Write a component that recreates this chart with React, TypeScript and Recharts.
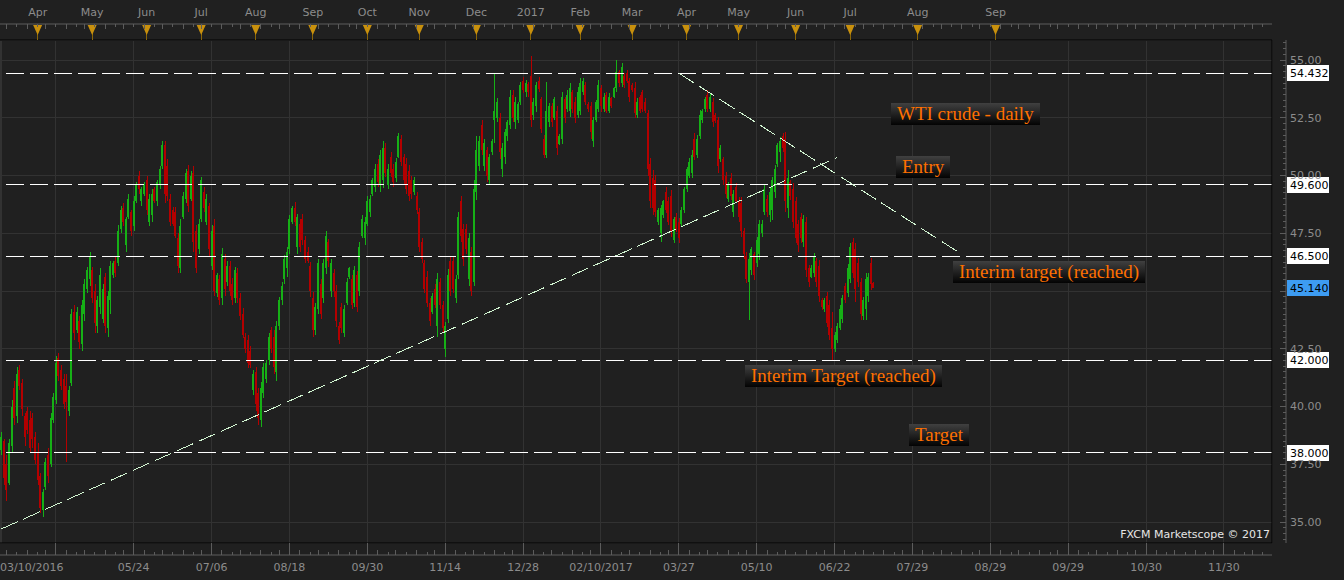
import React from "react";
import { ComposedChart, Bar, XAxis, YAxis, CartesianGrid, ReferenceLine, ReferenceDot } from "recharts";

// daily bars, US oil, from 03/10/2016 on
const opens = [
  38.1, 38.5, 37.5, 36.7, 38.3, 40.8, 39.6, 41.6, 41.0, 39.6,
  39.8, 39.4, 39.5, 38.7, 38.0, 37.0, 35.5, 36.5, 37.9, 37.5,
  39.4, 40.3, 42.1, 41.6, 41.2, 40.9, 39.8, 41.0, 44.1, 43.3,
  43.7, 42.7, 44.0, 45.1, 45.5, 45.9, 45.0, 43.5, 44.3, 43.8,
  45.6, 43.4, 44.6, 45.7, 46.3, 46.2, 47.7, 48.6, 47.0, 48.2,
  48.4, 47.8, 48.9, 50.0, 48.9, 49.2, 49.8, 48.0, 48.3, 49.4,
  48.9, 49.6, 50.4, 51.3, 50.4, 49.0, 48.5, 48.4, 47.3, 46.0,
  48.2, 49.0, 50.2, 49.0, 50.1, 47.6, 46.8, 48.1, 49.3, 48.0,
  48.7, 46.1, 47.8, 44.9, 45.5, 44.7, 46.4, 45.4, 46.1, 45.3,
  44.7, 45.8, 44.7, 44.0, 43.0, 42.9, 42.4, 40.7, 41.5, 40.6,
  39.4, 40.6, 41.2, 42.0, 43.3, 43.0, 41.5, 43.5, 44.6, 45.5,
  46.0, 46.8, 48.0, 48.6, 46.9, 47.9, 48.1, 47.2, 46.7, 46.1,
  44.7, 43.3, 44.2, 45.3, 44.7, 46.0, 47.1, 45.0, 45.8, 45.0,
  43.5, 44.3, 43.2, 44.5, 45.6, 45.5, 44.5, 45.7, 45.0, 47.4,
  47.3, 47.9, 48.4, 49.2, 49.5, 50.5, 49.6, 49.8, 51.2, 49.6,
  50.8, 50.3, 49.9, 50.8, 51.6, 50.8, 50.5, 50.2, 49.8, 49.3,
  49.1, 48.4, 47.1, 46.2, 45.6, 44.5, 44.1, 45.1, 43.5, 45.4,
  44.4, 42.5, 43.8, 46.3, 46.3, 44.7, 45.7, 48.9, 47.7, 47.7,
  45.5, 46.7, 45.4, 49.3, 50.4, 52.2, 50.4, 51.1, 49.8, 51.0,
  52.4, 52.5, 52.5, 50.3, 50.8, 51.7, 52.2, 53.5, 52.3, 52.4,
  53.2, 54.1, 53.6, 53.95, 54.3, 52.6, 53.0, 54.1, 53.3, 51.6,
  50.9, 52.3, 53.0, 52.5, 52.8, 51.35, 51.6, 53.3, 52.9, 52.8,
  53.6, 53.2, 52.6, 52.8, 53.6, 53.9, 53.1, 53.0, 51.5, 52.4,
  52.9, 53.8, 52.9, 53.5, 52.8, 53.35, 53.4, 53.8, 54.5, 54.0,
  54.3, 54.45, 54.1, 53.9, 53.8, 52.6, 53.4, 53.6, 53.2, 52.7,
  50.5, 49.9, 49.8, 48.0, 47.5, 48.3, 49.3, 48.9, 49.1, 47.2,
  48.2, 48.0, 47.9, 48.5, 49.4, 50.0, 50.1, 51.6, 50.9, 51.7,
  52.4, 52.9, 53.5, 52.9, 53.2, 52.6, 52.4, 50.7, 50.7, 50.0,
  49.0, 49.9, 48.4, 49.5, 48.9, 48.8, 47.6, 46.5, 45.4, 45.9,
  46.6, 46.2, 46.6, 47.5, 48.4, 49.0, 48.3, 48.5, 49.3, 50.5,
  51.0, 51.7, 51.6, 48.6, 49.7, 49.4, 48.9, 47.9, 48.2, 47.1,
  48.0, 46.0, 45.6, 45.8, 46.3, 46.1, 44.6, 44.2, 44.8, 44.4,
  43.4, 42.5, 42.9, 43.4, 43.8, 45.2, 44.9, 45.5, 47.1, 46.8,
  46.2, 45.4, 43.9, 44.2, 44.8, 46.2, 45.35,
];

const highs = [
  38.9, 38.6, 37.9, 38.6, 40.3, 41.1, 41.7, 41.8, 41.2, 39.7,
  40.0, 39.8, 39.7, 38.9, 38.4, 37.1, 36.45, 37.75, 38.2, 39.7,
  40.6, 42.2, 42.3, 41.8, 41.4, 41.4, 40.9, 44.2, 44.4, 44.3,
  43.9, 44.6, 45.5, 46.05, 46.7, 46.05, 45.3, 44.8, 46.0, 45.3,
  45.8, 45.0, 46.3, 46.3, 46.5, 47.85, 48.7, 48.8, 48.2, 49.2,
  48.5, 49.1, 49.7, 50.2, 49.5, 49.7, 50.0, 49.2, 49.4, 49.5,
  49.8, 50.4, 51.5, 51.5, 50.7, 49.2, 48.65, 48.65, 47.5, 48.1,
  49.3, 50.3, 50.45, 50.2, 50.4, 47.85, 48.1, 49.95, 49.5, 49.2,
  48.8, 47.85, 48.1, 45.8, 45.7, 46.85, 46.6, 46.3, 46.3, 45.55,
  46.05, 46.0, 44.9, 44.25, 43.2, 43.1, 42.6, 41.6, 41.7, 40.8,
  41.05, 41.9, 42.0, 43.2, 43.45, 43.3, 43.7, 44.75, 45.4, 46.55,
  46.9, 48.3, 48.7, 48.85, 48.35, 48.1, 48.35, 47.4, 46.9, 46.25,
  44.95, 44.5, 46.4, 45.5, 46.4, 47.6, 47.25, 46.4, 45.95, 45.25,
  43.65, 44.5, 44.4, 45.55, 46.05, 45.7, 46.1, 45.85, 47.1, 48.3,
  48.2, 49.1, 49.15, 49.9, 50.5, 50.7, 51.1, 51.5, 51.4, 50.5,
  51.0, 50.5, 50.75, 51.85, 51.75, 50.95, 50.75, 50.45, 50.0, 49.95,
  49.3, 48.6, 47.3, 46.35, 45.85, 44.7, 44.9, 45.3, 45.8, 45.55,
  44.55, 43.65, 45.95, 46.5, 46.5, 45.7, 48.4, 49.1, 47.9, 47.9,
  47.5, 46.9, 49.8, 51.7, 51.7, 52.4, 51.6, 51.25, 50.95, 51.6,
  54.4, 53.35, 52.7, 51.4, 52.0, 52.4, 53.7, 53.7, 53.4, 53.2,
  54.06, 54.28, 54.13, 54.06, 55.17, 53.34, 54.06, 54.28, 53.41, 51.75,
  54.06, 53.12, 53.12, 53.41, 53.0, 51.8, 53.6, 53.41, 53.7, 54.0,
  53.7, 53.41, 53.85, 54.2, 54.2, 54.06, 53.2, 53.2, 52.55, 53.27,
  54.13, 53.92, 53.56, 53.63, 53.56, 53.41, 53.85, 55.0, 54.57, 54.88,
  54.42, 54.57, 54.2, 53.99, 54.06, 53.34, 53.49, 53.7, 53.34, 52.84,
  50.74, 50.24, 50.02, 48.58, 48.72, 48.94, 49.52, 49.08, 49.37, 48.22,
  48.36, 48.15, 48.65, 49.52, 50.38, 50.74, 51.1, 51.83, 51.75, 52.84,
  52.9, 53.41, 53.7, 53.56, 53.34, 52.69, 52.55, 51.32, 50.82, 50.17,
  49.73, 50.09, 49.37, 49.66, 49.08, 49.08, 47.71, 46.7, 46.63, 46.92,
  46.7, 47.35, 48.07, 48.07, 49.59, 49.16, 49.52, 49.95, 50.45, 51.39,
  51.68, 51.82, 51.9, 50.24, 49.8, 49.66, 49.08, 48.07, 48.36, 48.29,
  48.22, 46.12, 46.12, 46.63, 46.41, 46.34, 44.68, 44.68, 44.97, 44.61,
  44.1, 43.24, 43.6, 44.39, 44.83, 45.33, 46.19, 47.06, 47.28, 47.06,
  46.41, 45.55, 44.75, 45.76, 45.76, 46.41, 45.4,
];

const lows = [
  37.9, 36.6, 35.9, 36.6, 38.0, 39.2, 39.3, 40.7, 39.6, 38.3,
  38.8, 38.0, 38.2, 37.5, 36.6, 35.4, 35.2, 36.4, 36.7, 37.4,
  39.3, 40.1, 41.1, 40.7, 39.9, 37.6, 39.6, 40.9, 42.9, 43.2,
  42.5, 42.4, 43.7, 44.9, 45.2, 44.5, 43.2, 43.2, 44.0, 43.6,
  43.2, 43.0, 44.0, 45.55, 45.6, 46.1, 47.5, 47.8, 46.7, 48.1,
  47.4, 47.6, 48.8, 49.2, 48.7, 49.1, 48.3, 47.8, 48.0, 48.8,
  48.7, 49.4, 50.3, 48.8, 48.9, 47.8, 47.8, 47.3, 45.8, 45.8,
  48.1, 48.8, 48.4, 48.9, 46.7, 45.8, 46.6, 48.0, 48.4, 47.85,
  46.5, 45.9, 44.8, 44.75, 44.4, 44.4, 44.8, 45.2, 44.8, 44.4,
  44.5, 44.5, 43.75, 42.95, 42.3, 41.65, 41.65, 40.5, 39.8, 39.2,
  39.1, 40.35, 41.0, 41.8, 42.3, 41.4, 41.1, 43.3, 44.4, 45.3,
  45.6, 46.6, 47.9, 47.8, 46.6, 46.7, 47.0, 46.2, 46.2, 44.75,
  43.0, 43.1, 44.0, 43.8, 44.5, 45.75, 46.05, 44.75, 44.75, 43.45,
  42.7, 43.2, 43.0, 44.4, 45.5, 44.2, 44.3, 44.1, 44.8, 47.3,
  47.0, 47.8, 48.2, 49.1, 49.3, 49.5, 49.3, 49.45, 49.95, 49.4,
  49.95, 49.5, 49.7, 50.75, 50.4, 49.6, 49.2, 48.9, 49.0, 49.15,
  48.35, 46.7, 46.2, 44.9, 44.3, 43.5, 44.0, 44.25, 43.0, 44.2,
  43.2, 42.15, 43.6, 44.8, 44.9, 44.5, 45.5, 47.1, 46.1, 46.6,
  45.2, 44.8, 45.2, 48.95, 50.2, 50.9, 50.2, 49.7, 49.6, 50.9,
  51.4, 52.33, 50.7, 49.95, 50.5, 51.5, 52.0, 52.3, 52.0, 52.26,
  53.05, 53.56, 53.4, 53.4, 52.11, 52.4, 52.77, 53.63, 51.83, 50.74,
  50.74, 52.11, 52.11, 52.4, 50.9, 51.3, 51.36, 52.26, 52.77, 52.55,
  52.69, 52.26, 52.47, 52.62, 53.49, 53.05, 52.77, 51.6, 51.25, 52.33,
  52.77, 52.77, 52.77, 52.69, 52.69, 52.91, 53.34, 53.63, 53.85, 53.85,
  53.77, 53.99, 53.2, 53.63, 52.47, 52.47, 52.69, 52.76, 52.69, 50.0,
  48.58, 48.29, 48.22, 47.86, 47.14, 48.15, 48.36, 47.86, 47.35, 47.06,
  47.57, 47.06, 47.79, 48.36, 49.3, 49.88, 49.88, 50.67, 50.74, 51.6,
  52.26, 52.76, 52.76, 52.76, 52.11, 52.26, 50.09, 50.6, 49.59, 49.01,
  48.87, 48.94, 48.22, 48.8, 48.0, 47.35, 46.4, 45.33, 43.74, 45.69,
  45.48, 46.05, 46.34, 47.35, 48.29, 48.22, 48.0, 48.07, 49.01, 50.38,
  50.6, 51.03, 48.43, 48.14, 48.94, 47.71, 47.06, 46.7, 47.06, 46.92,
  45.62, 45.18, 45.55, 45.62, 45.18, 44.54, 44.18, 44.1, 43.45, 42.88,
  42.01, 42.37, 42.73, 43.31, 43.6, 44.46, 44.75, 45.33, 45.55, 44.54,
  45.18, 43.74, 43.74, 43.74, 44.54, 45.04, 45.11,
];

const closes = [
  38.7, 36.9, 36.4, 38.4, 40.0, 39.5, 41.4, 40.9, 39.9, 38.7,
  39.0, 38.2, 38.6, 37.7, 36.8, 35.6, 36.3, 37.6, 37.0, 39.5,
  40.4, 41.9, 41.3, 40.9, 40.1, 40.2, 40.7, 44.0, 43.2, 44.1,
  42.8, 44.4, 45.3, 45.9, 46.5, 44.7, 43.6, 44.6, 45.7, 45.1,
  43.5, 44.8, 46.1, 46.2, 45.8, 47.6, 48.5, 48.0, 48.1, 49.0,
  47.6, 48.9, 49.6, 49.4, 49.4, 49.6, 48.5, 49.0, 49.2, 48.9,
  49.7, 50.3, 51.3, 49.2, 49.1, 48.0, 47.9, 47.4, 46.1, 47.8,
  49.1, 50.1, 48.7, 50.0, 47.1, 46.0, 47.9, 49.8, 48.6, 49.0,
  46.8, 47.6, 45.0, 45.7, 44.6, 46.6, 45.1, 46.1, 45.0, 44.6,
  45.9, 44.7, 43.9, 43.1, 42.5, 41.9, 41.8, 41.4, 40.1, 39.5,
  40.8, 41.7, 41.9, 43.0, 42.5, 41.7, 43.5, 44.6, 45.2, 46.4,
  46.7, 48.1, 48.6, 48.0, 48.2, 46.9, 47.2, 46.4, 46.3, 45.0,
  43.3, 44.3, 46.2, 44.0, 46.2, 47.4, 46.3, 46.2, 45.0, 43.7,
  42.9, 43.4, 44.2, 45.4, 46.0, 44.4, 45.9, 44.3, 46.9, 48.1,
  48.0, 48.9, 49.0, 49.8, 50.3, 49.7, 50.9, 51.2, 50.1, 50.3,
  50.1, 49.7, 50.6, 51.7, 50.6, 49.8, 49.4, 49.1, 49.2, 49.8,
  48.5, 46.9, 46.4, 45.1, 44.5, 43.7, 44.8, 44.4, 45.5, 44.4,
  43.4, 43.5, 45.7, 45.0, 45.1, 45.5, 48.2, 47.4, 46.4, 46.8,
  47.3, 45.0, 49.4, 51.1, 51.5, 51.1, 51.4, 50.0, 50.8, 51.5,
  52.8, 53.2, 51.0, 51.2, 51.9, 52.3, 53.4, 52.5, 53.2, 53.1,
  53.9, 53.7, 54.0, 53.6, 52.4, 53.2, 53.9, 53.75, 52.0, 50.9,
  52.8, 53.0, 52.3, 53.3, 51.2, 51.7, 53.4, 52.5, 53.5, 53.8,
  52.9, 52.5, 53.6, 54.0, 54.1, 53.2, 52.9, 51.9, 52.4, 53.2,
  53.9, 53.0, 53.4, 52.8, 53.4, 53.0, 53.8, 54.5, 54.0, 54.7,
  53.9, 54.1, 53.4, 53.7, 52.7, 53.2, 52.8, 52.9, 52.8, 50.3,
  48.9, 48.6, 48.4, 48.5, 48.6, 48.9, 48.5, 48.0, 47.6, 48.1,
  47.7, 47.3, 48.5, 49.4, 50.3, 50.6, 50.9, 50.8, 51.6, 52.6,
  52.8, 53.3, 52.9, 53.4, 52.3, 52.35, 50.4, 51.2, 49.8, 49.2,
  49.6, 49.1, 49.2, 48.9, 48.2, 47.6, 46.6, 45.5, 46.4, 46.8,
  45.7, 47.2, 47.9, 47.9, 49.4, 48.4, 49.3, 49.8, 50.3, 51.3,
  51.5, 51.2, 48.9, 49.9, 49.1, 48.0, 47.3, 47.0, 47.3, 48.1,
  45.9, 45.4, 46.0, 46.5, 45.4, 44.8, 44.3, 44.6, 43.6, 43.1,
  42.5, 43.1, 43.5, 44.2, 44.7, 44.6, 46.0, 46.9, 45.8, 45.1,
  45.4, 44.0, 44.6, 45.5, 45.6, 45.3, 45.14,
];

// bar slots on the time axis, the tail is the empty space to the right
const SLOTS = 490;

const dateTicks = [0, 21, 51, 81, 111, 141, 171, 201, 231, 261, 291, 321, 351, 381, 411, 441, 471];
const dateLabels = ["03/10/2016", "", "05/24", "07/06", "08/18", "09/30", "11/14", "12/28", "02/10/2017", "03/27", "05/10", "06/22", "07/29", "08/29", "09/29", "10/30", "11/30"];

const monthTicks = [14, 35, 56, 77, 98, 120, 141, 161, 183, 204, 223, 243, 264, 284, 306, 327, 353, 383];
const monthLabels = ["Apr", "May", "Jun", "Jul", "Aug", "Sep", "Oct", "Nov", "Dec", "2017", "Feb", "Mar", "Apr", "May", "Jun", "Jul", "Aug", "Sep"];

const priceTicks = [35, 37.5, 40, 42.5, 45, 47.5, 50, 52.5, 55];
const levels = [54.432, 49.6, 46.5, 42.0, 38.0];

const supportLine = [{ k: 0, price: 34.7 }, { k: 322, price: 50.78 }];
const resistanceLine = [{ k: 261, price: 54.43 }, { k: 369, price: 46.66 }];

const notes = [
  { text: "WTI crude - daily", k: 343, price: 52.68 },
  { text: "Entry", k: 345, price: 50.37 },
  { text: "Interim target (reached)", k: 367, price: 45.82 },
  { text: "Interim Target (reached)", k: 287, price: 41.32 },
  { text: "Target", k: 350, price: 38.77 },
];

const Y_DOMAIN: [number, number] = [34.091, 55.866];
const AXIS_FONT = "DejaVu Sans";
const NOTE_FONT = "Liberation Serif";

const rows = Array.from({ length: SLOTS }, (_, k) =>
  k < closes.length
    ? { k, o: opens[k], h: highs[k], l: lows[k], c: closes[k], range: [lows[k], highs[k]] }
    : { k }
);

const lastClose = closes[closes.length - 1];

// small ticks between the labelled ones, roughly 8 per label step
const minorTicks: number[] = [];
for (let m = -5; m <= 8 * 16 + 4; m++) {
  const k = Math.round(21 + m * 3.75);
  if (k >= 0 && k < SLOTS && !minorTicks.includes(k)) minorTicks.push(k);
}
const quarterTicks = Array.from({ length: 87 }, (_, i) => 34.25 + i * 0.25);

let measureCtx: CanvasRenderingContext2D | null = null;
function textWidth(text: string, font: string) {
  if (!measureCtx) measureCtx = document.createElement("canvas").getContext("2d");
  if (!measureCtx) return text.length * 9;
  measureCtx.font = font;
  return measureCtx.measureText(text).width;
}

const Candle = (props: any) => {
  const { x, y, width, height, payload } = props;
  if (!payload || payload.c == null) return null;
  const { o, h, l, c } = payload;
  const top = Math.min(y, y + height);
  const bottom = Math.max(y, y + height);
  const toY = (v: number) => top + ((h - v) / (h - l || 1)) * (bottom - top);
  const color = c >= o ? "#16b016" : "#b40000";
  const cx = Math.round(x + width / 2);
  const bodyTop = toY(Math.max(o, c));
  const bodyBottom = toY(Math.min(o, c));
  return (
    <g shapeRendering="crispEdges">
      <rect x={cx} y={top} width={1} height={Math.max(bottom - top, 1)} fill={color} />
      <rect x={cx - 1} y={bodyTop} width={2} height={Math.max(bodyBottom - bodyTop, 1)} fill={color} />
    </g>
  );
};

const DateTick = (props: any) => {
  const { x, y, payload } = props;
  const label = dateLabels[dateTicks.indexOf(payload.value)];
  const first = payload.value === 0;
  return (
    <g>
      {!first && <line x1={x} x2={x} y1={y} y2={y + 12} stroke="#5c5c5c" shapeRendering="crispEdges" />}
      {label && (
        <text x={first ? 0 : x} y={y + 24} dy="0.35em" textAnchor={first ? "start" : "middle"}
          fill="#8c8c8c" fontSize={11} fontFamily={AXIS_FONT}>
          {label}
        </text>
      )}
    </g>
  );
};

const DateMinorTick = (props: any) => {
  const { x, y, index } = props;
  const len = index % 2 ? 3 : 5;
  return <line x1={x} x2={x} y1={y - len} y2={y} stroke="#5c5c5c" shapeRendering="crispEdges" />;
};

const MonthTick = (props: any) => {
  const { x, y, payload } = props;
  const label = monthLabels[monthTicks.indexOf(payload.value)];
  return (
    <g>
      <text x={x} y={y - 28} dy="0.35em" textAnchor="middle" fill="#8c8c8c" fontSize={11} fontFamily={AXIS_FONT}>
        {label}
      </text>
      <line x1={x} x2={x} y1={y - 7} y2={y} stroke="#8a6608" shapeRendering="crispEdges" />
      <polygon points={`${x - 4.5},${y - 15} ${x + 4.5},${y - 15} ${x},${y - 5}`} fill="#c8900d" />
    </g>
  );
};

const MonthMinorTick = (props: any) => {
  const { x, y, index } = props;
  const len = index % 2 ? 3 : 5;
  return <line x1={x} x2={x} y1={y} y2={y + len} stroke="#5c5c5c" shapeRendering="crispEdges" />;
};

const PriceTick = (props: any) => {
  const { x, y, payload } = props;
  // the last-price tag sits on top of this label, so it is not drawn
  if (Math.abs(payload.value - lastClose) < 0.3) return null;
  return (
    <text x={x + 18} y={y} dy="0.35em" fill="#8c8c8c" fontSize={11} fontFamily={AXIS_FONT}>
      {Number(payload.value).toFixed(2)}
    </text>
  );
};

const PriceMinorTick = (props: any) => {
  const { x, y, payload } = props;
  const major = Math.abs(payload.value / 2.5 - Math.round(payload.value / 2.5)) < 1e-6;
  const len = major ? 6 : 3;
  return <line x1={x - len} x2={x} y1={y} y2={y} stroke="#5c5c5c" shapeRendering="crispEdges" />;
};

const LevelTag = ({ cx, cy, value, fill }: any) => (
  <g>
    <rect x={Math.round(cx) + 16} y={Math.round(cy) - 8} width={42} height={16} fill={fill} />
    <text x={Math.round(cx) + 19} y={cy} dy="0.36em" fill="#000" fontSize={11} fontFamily={AXIS_FONT}>
      {value.toFixed(3)}
    </text>
  </g>
);

const NoteBox = ({ cx, cy, text }: any) => {
  const w = Math.round(textWidth(text, `19px "${NOTE_FONT}"`) + 12);
  const left = Math.round(cx) - 1;
  const top = Math.round(cy) - 11;
  return (
    <g>
      <defs>
        <linearGradient id="noteFill" x1="0" y1="0" x2="0" y2="1">
          <stop offset="0" stopColor="#404040" />
          <stop offset="1" stopColor="#030303" />
        </linearGradient>
      </defs>
      <rect x={left} y={top} width={w} height={22} fill="url(#noteFill)" />
      <text x={left + 6} y={top + 11} dy="0.32em" fill="#ff7000" fontSize={19} fontFamily={NOTE_FONT}>
        {text}
      </text>
    </g>
  );
};

export default function App() {
  return (
    <div style={{ position: "relative", width: 1344, height: 580, background: "#202020" }}>
      <style>{"body{margin:0;background:#202020}"}</style>
      <ComposedChart width={1344} height={580} data={rows} margin={{ top: 0, right: 0, bottom: 0, left: 0 }}>
        <XAxis xAxisId="date" dataKey="k" type="category" orientation="bottom" height={12}
          ticks={dateTicks} interval={0} tick={<DateTick />} tickLine={false} tickSize={0} tickMargin={0}
          axisLine={{ stroke: "#000" }} />
        <XAxis xAxisId="dateMinor" dataKey="k" type="category" orientation="bottom" height={25}
          ticks={minorTicks} interval={0} tick={<DateMinorTick />} tickLine={false} tickSize={0} tickMargin={0}
          axisLine={{ stroke: "#5c5c5c" }} />
        <XAxis xAxisId="month" dataKey="k" type="category" orientation="top" height={16}
          ticks={monthTicks} interval={0} tick={<MonthTick />} tickLine={false} tickSize={0} tickMargin={0}
          axisLine={{ stroke: "#000" }} />
        <XAxis xAxisId="monthMinor" dataKey="k" type="category" orientation="top" height={24}
          ticks={minorTicks} interval={0} tick={<MonthMinorTick />} tickLine={false} tickSize={0} tickMargin={0}
          axisLine={{ stroke: "#5c5c5c" }} />
        <YAxis yAxisId="price" orientation="right" width={14} type="number" domain={Y_DOMAIN} allowDataOverflow
          ticks={priceTicks} interval={0} tick={<PriceTick />} tickLine={false} tickSize={0} tickMargin={0}
          axisLine={{ stroke: "#000" }} />
        <YAxis yAxisId="priceMinor" orientation="right" width={58} type="number" domain={Y_DOMAIN} allowDataOverflow
          ticks={quarterTicks} interval={0} tick={<PriceMinorTick />} tickLine={false} tickSize={0} tickMargin={0}
          axisLine={{ stroke: "#5c5c5c" }} />

        <CartesianGrid xAxisId="date" yAxisId="price" stroke="#323232" shapeRendering="crispEdges" />

        <Bar xAxisId="date" yAxisId="price" dataKey="range" shape={<Candle />} isAnimationActive={false} />

        {levels.map((v) => (
          <ReferenceLine key={v} xAxisId="date" yAxisId="price" y={v} stroke="#ffffff"
            strokeDasharray="18 6" shapeRendering="crispEdges" />
        ))}
        <ReferenceLine xAxisId="date" yAxisId="price" stroke="#d2f5d2" strokeDasharray="18 6"
          shapeRendering="crispEdges"
          segment={supportLine.map((p) => ({ x: p.k, y: p.price }))} />
        <ReferenceLine xAxisId="date" yAxisId="price" stroke="#d2f5d2" strokeDasharray="18 6"
          shapeRendering="crispEdges"
          segment={resistanceLine.map((p) => ({ x: p.k, y: p.price }))} />

        {levels.map((v) => (
          <ReferenceDot key={"tag" + v} xAxisId="date" yAxisId="price" x={SLOTS - 1} y={v} r={0}
            ifOverflow="visible" shape={(p: any) => <LevelTag cx={p.cx} cy={p.cy} value={v} fill="#ffffff" />} />
        ))}
        <ReferenceDot xAxisId="date" yAxisId="price" x={SLOTS - 1} y={lastClose} r={0} ifOverflow="visible"
          shape={(p: any) => <LevelTag cx={p.cx} cy={p.cy} value={lastClose} fill="#3d9cf2" />} />

        {notes.map((n) => (
          <ReferenceDot key={n.text} xAxisId="date" yAxisId="price" x={n.k} y={n.price} r={0}
            ifOverflow="visible" shape={(p: any) => <NoteBox cx={p.cx} cy={p.cy} text={n.text} />} />
        ))}
      </ComposedChart>
      <div style={{
        position: "absolute", left: 1060, top: 528, width: 210, textAlign: "right",
        font: `11px "${AXIS_FONT}"`, color: "#e6e6e6", lineHeight: "13px",
      }}>
        FXCM Marketscope © 2017
      </div>
    </div>
  );
}
